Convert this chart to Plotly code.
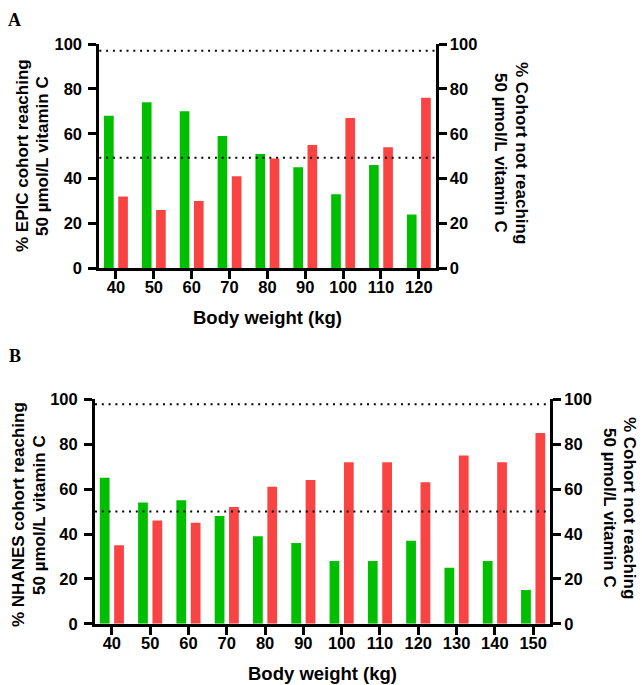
import plotly.graph_objects as go

# ---------------- data ----------------
weights_A = [40, 50, 60, 70, 80, 90, 100, 110, 120]
epic_reaching = [68, 74, 70, 59, 51, 45, 33, 46, 24]
epic_not_reaching = [32, 26, 30, 41, 49, 55, 67, 54, 76]
ref_lines_A = [97, 49.3]

weights_B = [40, 50, 60, 70, 80, 90, 100, 110, 120, 130, 140, 150]
nhanes_reaching = [65, 54, 55, 48, 39, 36, 28, 28, 37, 25, 28, 15]
nhanes_not_reaching = [35, 46, 45, 52, 61, 64, 72, 72, 63, 75, 72, 85]
ref_lines_B = [97.8, 50]

y_ticks = [0, 20, 40, 60, 80, 100]

# ---------------- style ----------------
W, H = 642, 685
GREEN = "#00BE00"
RED = "#FA4343"
SANS = "Liberation Sans, Arial, sans-serif"
SERIF = "Liberation Serif, Times New Roman, serif"
BAR_W = 2.55
GAP = 0.6


def px_x(p):
    return p / W


def px_y(p):
    return 1 - p / H


fig = go.Figure()

# Panel A bars
fig.add_trace(go.Bar(x=weights_A, y=epic_reaching, marker_color=GREEN, width=BAR_W,
                     offset=-(GAP + BAR_W), xaxis="x", yaxis="y", showlegend=False))
fig.add_trace(go.Bar(x=weights_A, y=epic_not_reaching, marker_color=RED, width=BAR_W,
                     offset=GAP, xaxis="x", yaxis="y2", showlegend=False))
# Panel B bars
fig.add_trace(go.Bar(x=weights_B, y=nhanes_reaching, marker_color=GREEN, width=BAR_W,
                     offset=-(GAP + BAR_W), xaxis="x2", yaxis="y3", showlegend=False))
fig.add_trace(go.Bar(x=weights_B, y=nhanes_not_reaching, marker_color=RED, width=BAR_W,
                     offset=GAP, xaxis="x2", yaxis="y4", showlegend=False))

tickfont = dict(family=SANS, size=16.5, color="black", weight="bold")
axis_common = dict(showgrid=False, zeroline=False, showline=True, linecolor="black",
                   linewidth=3, ticks="outside", ticklen=8, tickwidth=2.5,
                   tickcolor="black", tickfont=tickfont, fixedrange=True,
                   automargin=False)
xaxis_common = dict(axis_common, ticklabelstandoff=-6)
yleft_common = dict(axis_common, ticklabelstandoff=3)
yright_common = dict(axis_common, ticklabelstandoff=0)

domA_x = [px_x(99.3), px_x(435.5)]
domA_y = [px_y(268.3), px_y(44)]
domB_x = [px_x(95), px_x(550)]
domB_y = [px_y(623.8), px_y(399.3)]

fig.update_layout(
    template="none",
    width=W, height=H, margin=dict(l=0, r=0, t=0, b=0, autoexpand=False),
    paper_bgcolor="white", plot_bgcolor="white",
    barmode="overlay", showlegend=False,
    xaxis=dict(xaxis_common, domain=domA_x, range=[35.6, 124.4], tickvals=weights_A,
               anchor="y"),
    yaxis=dict(yleft_common, domain=domA_y, range=[0, 100], tickvals=y_ticks,
               anchor="x"),
    yaxis2=dict(yright_common, domain=domA_y, range=[0, 100], tickvals=y_ticks,
                anchor="x", overlaying="y", side="right"),
    xaxis2=dict(xaxis_common, domain=domB_x, range=[35.6, 154.4], tickvals=weights_B,
                anchor="y3"),
    yaxis3=dict(yleft_common, domain=domB_y, range=[0, 100], tickvals=y_ticks,
                anchor="x2"),
    yaxis4=dict(yright_common, domain=domB_y, range=[0, 100], tickvals=y_ticks,
                anchor="x2", overlaying="y3", side="right"),
)

# dotted reference lines
for v in ref_lines_A:
    fig.add_shape(type="line", xref="x domain", yref="y", x0=0, x1=1, y0=v, y1=v,
                  line=dict(color="black", width=2, dash="2px,4.8px"))
for v in ref_lines_B:
    fig.add_shape(type="line", xref="x2 domain", yref="y3", x0=0, x1=1, y0=v, y1=v,
                  line=dict(color="black", width=2, dash="2px,4.8px"))

titlefont = dict(family=SANS, size=17, color="black", weight="bold")
xtitlefont = dict(family=SANS, size=18.5, color="black", weight="bold")
labelfont = dict(family=SERIF, size=18, color="black", weight="bold")


def ann(text, x, y, font, angle=0):
    fig.add_annotation(text=text, xref="paper", yref="paper", x=px_x(x), y=px_y(y),
                       xanchor="center", yanchor="middle", showarrow=False,
                       textangle=angle, font=font)


# panel labels
ann("A", 14.5, 20, labelfont)
ann("B", 14.5, 355.5, labelfont)

# Panel A titles
ann("% EPIC cohort reaching", 22, 156, titlefont, -90)
ann("50 µmol/L vitamin C", 42, 156, titlefont, -90)
ann("% Cohort not reaching", 521, 153, titlefont, 90)
ann("50 µmol/L vitamin C", 500, 153, titlefont, 90)
ann("Body weight (kg)", 267.5, 317, xtitlefont)

# Panel B titles
ann("% NHANES cohort reaching", 18, 515, titlefont, -90)
ann("50 µmol/L vitamin C", 39, 515, titlefont, -90)
ann("% Cohort not reaching", 630, 508, titlefont, 90)
ann("50 µmol/L vitamin C", 610, 508, titlefont, 90)
ann("Body weight (kg)", 322.5, 673, xtitlefont)

fig.write_html(
    "out.html",
    config={"displayModeBar": False},
    post_script="document.body.style.margin='0px';document.body.style.overflow='hidden';",
)
